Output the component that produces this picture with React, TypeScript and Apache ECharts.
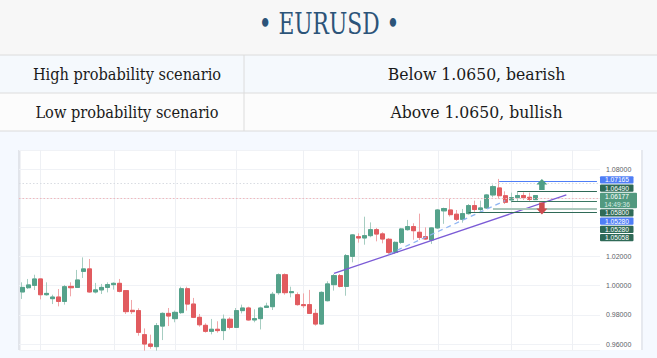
import React, { useEffect, useRef } from 'react';
import * as echarts from 'echarts';

// ---- data ----
const slotCount = 95; // candle slots incl. empty future space
const categories: string[] = Array.from({ length: slotCount }, (_, i) => String(i));

const opens = [
  0.9957, 0.9986, 1.0002, 1.0046, 0.9938, 0.9911, 0.9922, 0.9892, 0.9995, 0.9988,
  1.0098, 1.0115, 0.9957, 0.9971, 0.9988, 1.0007, 1.0016, 0.9966, 0.9831, 0.9829,
  0.9664, 0.9600, 0.9582, 0.9723, 0.9810, 0.9774, 0.9815, 0.9979, 0.9874, 0.9783,
  0.9728, 0.9687, 0.9701, 0.9692, 0.9770, 0.9714, 0.9829, 0.9847, 0.9765, 0.9774,
  0.9851, 0.9856, 0.9952, 1.0075, 0.9952, 0.9938, 0.9870, 0.9870, 0.9810, 0.9737,
  0.9897, 1.0007, 1.0069, 0.9995, 1.0201, 1.0336, 1.0327, 1.0343, 1.0384, 1.0355,
  1.0318, 1.0228, 1.0297, 1.0384, 1.0405, 1.0366, 1.0336, 1.0313, 1.0396, 1.0513,
  1.0519, 1.0490, 1.0455, 1.0494, 1.0549, 1.0522, 1.0533, 1.0622, 1.0670, 1.0617,
  1.0588, 1.0604, 1.0618, 1.0606, 1.0590,
];
const closes = [
  0.9988, 1.0005, 1.0046, 0.9938, 0.9947, 0.9922, 0.9892, 0.9993, 0.9986, 1.0039,
  1.0115, 0.9957, 0.9971, 0.9988, 1.0007, 1.0016, 0.9961, 0.9822, 0.9822, 0.9680,
  0.9600, 0.9584, 0.9726, 0.9810, 0.9792, 0.9817, 0.9979, 0.9874, 0.9783, 0.9732,
  0.9687, 0.9701, 0.9692, 0.9770, 0.9714, 0.9829, 0.9847, 0.9765, 0.9774, 0.9847,
  0.9860, 0.9941, 1.0075, 0.9952, 0.9959, 0.9870, 0.9863, 0.9810, 0.9737, 0.9954,
  1.0012, 1.0069, 0.9995, 1.0206, 1.0348, 1.0327, 1.0343, 1.0384, 1.0354, 1.0320,
  1.0228, 1.0297, 1.0389, 1.0405, 1.0377, 1.0331, 1.0320, 1.0396, 1.0519, 1.0529,
  1.0487, 1.0455, 1.0494, 1.0549, 1.0522, 1.0533, 1.0622, 1.0679, 1.0617, 1.0572,
  1.0604, 1.0618, 1.0604, 1.0592, 1.0618,
];
const highs = [
  1.0023, 1.0046, 1.0075, 1.0050, 1.0023, 0.9938, 0.9977, 1.0005, 1.0023, 1.0108,
  1.0194, 1.0183, 1.0019, 1.0012, 1.0023, 1.0023, 1.0046, 0.9970, 0.9902, 0.9845,
  0.9707, 0.9664, 0.9744, 0.9817, 0.9847, 0.9829, 0.9993, 0.9993, 0.9916, 0.9806,
  0.9742, 0.9772, 0.9756, 0.9802, 0.9783, 0.9847, 0.9870, 0.9856, 0.9838, 0.9856,
  0.9883, 0.9957, 1.0084, 1.0084, 0.9993, 0.9954, 0.9947, 0.9971, 0.9840, 0.9961,
  1.0030, 1.0080, 1.0080, 1.0217, 1.0354, 1.0359, 1.0473, 1.0434, 1.0396, 1.0366,
  1.0327, 1.0304, 1.0396, 1.0451, 1.0428, 1.0494, 1.0400, 1.0400, 1.0526, 1.0535,
  1.0595, 1.0519, 1.0526, 1.0560, 1.0583, 1.0583, 1.0629, 1.0693, 1.0732, 1.0647,
  1.0638, 1.0647, 1.0640, 1.0638, 1.0618,
];
const lows = [
  0.9909, 0.9977, 0.9970, 0.9906, 0.9931, 0.9874, 0.9858, 0.9870, 0.9927, 0.9984,
  1.0053, 0.9952, 0.9947, 0.9943, 0.9954, 0.9973, 0.9954, 0.9806, 0.9806, 0.9657,
  0.9554, 0.9568, 0.9554, 0.9627, 0.9723, 0.9749, 0.9806, 0.9829, 0.9778, 0.9719,
  0.9678, 0.9666, 0.9678, 0.9627, 0.9700, 0.9710, 0.9810, 0.9760, 0.9749, 0.9700,
  0.9847, 0.9833, 0.9938, 0.9938, 0.9920, 0.9863, 0.9847, 0.9806, 0.9726, 0.9732,
  0.9892, 0.9966, 0.9988, 0.9931, 1.0160, 1.0295, 1.0281, 1.0332, 1.0304, 1.0290,
  1.0217, 1.0217, 1.0286, 1.0377, 1.0315, 1.0313, 1.0313, 1.0286, 1.0389, 1.0424,
  1.0474, 1.0444, 1.0432, 1.0487, 1.0506, 1.0506, 1.0526, 1.0606, 1.0595, 1.0560,
  1.0570, 1.0574, 1.0588, 1.0574, 1.0590,
];

const sessionLines = [3, 15, 25, 35, 46, 55, 68, 80, 90];
const highLine = 1.0733;
const lastPrice = 1.06177;
// [startIndex, startValue, endIndex, endValue]
const trendSolid = [51, 1.0084, 89, 1.0622];
const trendDashed = [60, 1.0217, 79, 1.0583];
// horizontal levels: value, start index
const levelValues = [1.07165, 1.0649, 1.058, 1.0528, 1.05058];
const levelStarts = [78, 81, 80, 77, 73];
const levelColors = ['#4f7ef6', '#2f6a57', '#3a7763', '#a9c6bb', '#2f6a57'];
const levelWidths = [1, 1, 1, 2, 1];
const arrowIndex = 85;
const arrowUpValue = 1.0693;
const arrowDownValue = 1.0529;

const tagValues = ['1.07165', '1.06490', '1.06177', '1.05800', '1.05280', '1.05280', '1.05058'];
const tagSubs = ['', '', '14:49:36', '', '', '', ''];
const tagColors = ['#4f7ef6', '#2f6a57', '#52997f', '#2f6a57', '#4f7ef6', '#2f6a57', '#2f6a57'];

const titleText = '• EURUSD •';
const tableRows = [
  ['High probability scenario', 'Below 1.0650, bearish'],
  ['Low probability scenario', 'Above 1.0650, bullish'],
];

const SERIF = 'DejaVu Serif';
const SANS = 'Liberation Sans';

export default function App() {
  const ref = useRef<HTMLDivElement>(null);
  useEffect(() => {
    document.body.style.margin = '0';
    if (!ref.current) return;
    const chart = echarts.init(ref.current, undefined, { renderer: 'svg' });
    const n = opens.length;
    const wickData = [];
    const bodyData = [];
    for (let i = 0; i < n; i++) {
      wickData.push([opens[i], closes[i], lows[i], highs[i]]);
      bodyData.push([opens[i], closes[i], Math.min(opens[i], closes[i]), Math.max(opens[i], closes[i])]);
    }

    const txt = (id: string, x: number, y: number, text: string, size: number, fill: string, family: string, extra: any = {}) => ({
      id, type: 'text', z: extra.z ?? 5, x, y, scaleX: extra.scaleX ?? 1,
      style: {
        text, fill, fontSize: size, fontFamily: family, fontWeight: 'normal',
        align: 'center', verticalAlign: 'middle',
      },
    });

    const bg: any[] = [
      { id: 'hdr', type: 'rect', z: -10, shape: { x: 0, y: 0, width: 657, height: 55 }, style: { fill: '#f7f7f7' } },
      { id: 'r1', type: 'rect', z: -10, shape: { x: 0, y: 55, width: 657, height: 38 }, style: { fill: '#f5f9fd' } },
      { id: 'r2', type: 'rect', z: -10, shape: { x: 0, y: 93, width: 657, height: 38 }, style: { fill: '#fcfcfc' } },
      { id: 'cbg', type: 'rect', z: -10, shape: { x: 0, y: 131, width: 657, height: 227 }, style: { fill: '#f5f9ff' } },
      { id: 'panel', type: 'rect', z: -9, shape: { x: 18, y: 150, width: 625, height: 200 }, style: { fill: '#ffffff' } },
      { id: 'lb', type: 'rect', z: -8, shape: { x: 18, y: 150, width: 2.5, height: 200 }, style: { fill: '#e2e5eb' } },
      { id: 'rb', type: 'rect', z: -8, shape: { x: 641, y: 150, width: 2, height: 200 }, style: { fill: '#e6e9ef' } },
      { id: 'l1', type: 'line', z: -7, shape: { x1: 0, y1: 55, x2: 657, y2: 55 }, style: { stroke: '#dcdcdc', lineWidth: 1 } },
      { id: 'l2', type: 'line', z: -7, shape: { x1: 0, y1: 93, x2: 657, y2: 93 }, style: { stroke: '#dcdcdc', lineWidth: 1 } },
      { id: 'l3', type: 'line', z: -7, shape: { x1: 0, y1: 131, x2: 657, y2: 131 }, style: { stroke: '#dcdcdc', lineWidth: 1 } },
      { id: 'vd', type: 'line', z: -7, shape: { x1: 244, y1: 55, x2: 244, y2: 131 }, style: { stroke: '#dcdcdc', lineWidth: 1 } },
      txt('title', 329, 24, titleText, 29, '#2c5479', SERIF, { scaleX: 0.75 }),
    ];
    tableRows.forEach((row, r) => {
      const cy = 74.5 + r * 38;
      bg.push(txt(`t${r}a`, 127, cy, row[0], 16, '#1a1a1a', SERIF, { scaleX: 0.91 }));
      bg.push(txt(`t${r}b`, 476.5, cy, row[1], 16, '#1a1a1a', SERIF, { scaleX: 0.98 }));
    });

    const levelLines = levelValues.map((v, i) => [
      { coord: [levelStarts[i], v], lineStyle: { color: levelColors[i], width: levelWidths[i], type: 'solid' } },
      { coord: [slotCount - 1, v] },
    ]);

    const labelFmt = (hideLo: number, hiHi: number) => (v: number) => {
      return v > hideLo && v < hiHi ? '' : v.toFixed(5);
    };

    chart.setOption({
      animation: false,
      grid: { left: 19, right: 57, top: 150, bottom: 8, containLabel: false },
      xAxis: {
        type: 'category',
        data: categories,
        boundaryGap: true,
        axisLine: { show: false },
        axisTick: { show: false },
        axisLabel: { show: false },
        splitLine: { show: false },
      },
      yAxis: {
        type: 'value',
        position: 'right',
        min: 0.95589,
        max: 1.09303,
        splitNumber: 7,
        minInterval: 0.02,
        maxInterval: 0.02,
        axisLine: { show: false },
        axisTick: { show: false },
        axisLabel: {
          showMinLabel: false,
          showMaxLabel: false,
          formatter: labelFmt(0, 0),
          color: '#5d6068',
          fontSize: 7,
          margin: 6,
          fontFamily: SANS,
        },
        splitLine: { lineStyle: { color: '#f0f2f6', width: 1 } },
      },
      graphic: bg,
      series: [
        {
          type: 'candlestick',
          name: 'wick',
          data: wickData,
          barWidth: 4.6,
          z: 2,
          itemStyle: {
            color: 'rgba(0,0,0,0)',
            color0: 'rgba(0,0,0,0)',
            borderColor: '#a6cdc1',
            borderColor0: '#f0a6a9',
            borderWidth: 1,
          },
          markLine: {
            silent: true,
            z: 1,
            symbol: ['none', 'none'],
            label: { show: false },
            lineStyle: { color: '#eef0f4', width: 1, type: 'solid' },
            data: sessionLines.map((i) => ({ xAxis: categories[i] })),
          },
        },
        {
          type: 'candlestick',
          name: 'body',
          data: bodyData,
          barWidth: 4.6,
          z: 3,
          itemStyle: {
            color: '#55a28b',
            color0: '#e15b5f',
            borderColor: '#55a28b',
            borderColor0: '#e15b5f',
            borderWidth: 1,
          },
          markLine: {
            silent: true,
            symbol: ['none', 'none'],
            label: { show: false },
            data: [
              { yAxis: highLine, lineStyle: { color: '#d9dce2', type: [1.5, 2], width: 1 } },
              { yAxis: lastPrice, lineStyle: { color: '#f0b8bd', type: [1.5, 2], width: 1 } },
              [
                { coord: [trendSolid[0], trendSolid[1]], lineStyle: { color: '#7b5bd6', width: 1.3, type: 'solid' } },
                { coord: [trendSolid[2], trendSolid[3]] },
              ],
              [
                { coord: [trendDashed[0], trendDashed[1]], lineStyle: { color: '#8fb5f2', width: 1.3, type: [5, 4] } },
                { coord: [trendDashed[2], trendDashed[3]] },
              ],
              ...levelLines,
            ],
          },
          markPoint: {
            silent: true,
            label: { show: false },
            data: [
              {
                coord: [arrowIndex, arrowUpValue],
                symbol: 'path://M5 0 L10 5.5 L7.5 5.5 L7.5 11 L2.5 11 L2.5 5.5 L0 5.5 Z',
                symbolSize: [11, 11],
                itemStyle: { color: '#4f9e86' },
              },
              {
                coord: [arrowIndex, arrowDownValue],
                symbol: 'path://M2.5 0 L7.5 0 L7.5 5.5 L10 5.5 L5 11 L0 5.5 L2.5 5.5 Z',
                symbolSize: [11, 12],
                itemStyle: { color: '#cc4b4f' },
              },
            ],
          },
        },
      ],
    });

    // price tags on the right scale, stacked from the first tag's price
    const firstY = chart.convertToPixel({ yAxisIndex: 0 }, parseFloat(tagValues[0])) as number;
    const pitch = 8.25;
    const h1 = 7.2;
    let top = firstY - 5;
    const stackTop = top;
    const tagEls: any[] = [];
    tagValues.forEach((t, i) => {
      const dbl = !!tagSubs[i];
      const h = dbl ? pitch + h1 : h1;
      const w = dbl ? 37 : 33.5;
      tagEls.push({
        id: `tag${i}`, type: 'rect', z: 50,
        shape: { x: 600, y: top, width: w, height: h, r: 1 },
        style: { fill: tagColors[i] },
      });
      if (dbl) {
        tagEls.push(txt(`tagt${i}`, 617, top + h / 4 + 0.3, t, 6.6, '#ffffff', SANS, { z: 51 }));
        tagEls.push(txt(`tags${i}`, 617, top + (3 * h) / 4, tagSubs[i], 6.6, '#d6ece4', SANS, { z: 51 }));
      } else {
        tagEls.push(txt(`tagt${i}`, 617, top + h / 2 + 0.2, t, 6.6, '#ffffff', SANS, { z: 51 }));
      }
      top += dbl ? 2 * pitch : pitch;
    });
    // axis labels that sit under the tag stack are covered by the tags
    const hiVal = chart.convertFromPixel({ yAxisIndex: 0 }, stackTop - 3) as number;
    const loVal = chart.convertFromPixel({ yAxisIndex: 0 }, top + 3) as number;
    chart.setOption({
      yAxis: { axisLabel: { formatter: labelFmt(loVal, hiVal) } },
      graphic: [...bg, ...tagEls],
    });

    return () => chart.dispose();
  }, []);
  return <div ref={ref} style={{ width: 657, height: 358 }} />;
}
